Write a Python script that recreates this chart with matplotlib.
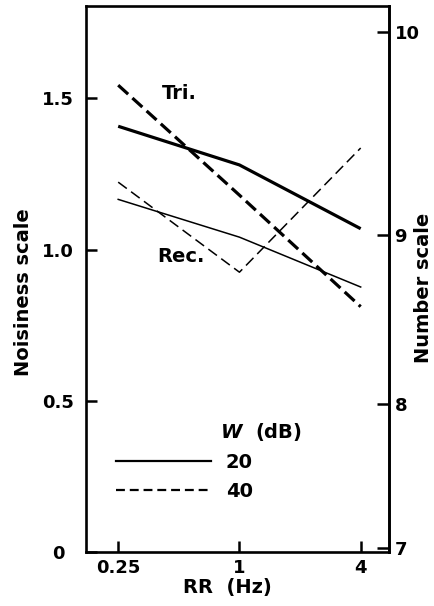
import numpy as np
import matplotlib
matplotlib.use("Agg")
import matplotlib.pyplot as plt
from matplotlib.lines import Line2D

# ---- data ----
rr_hz = [0.25, 1, 4]
tri_20 = [1.408, 1.280, 1.069]   # Tri., W = 20 dB (thick solid)
tri_40 = [1.544, 1.180, 0.811]   # Tri., W = 40 dB (thick dashed)
rec_20 = [1.166, 1.041, 0.876]   # Rec., W = 20 dB (thin solid)
rec_40 = [1.223, 0.925, 1.336]   # Rec., W = 40 dB (thin dashed)

x_ticks = [0.25, 1, 4]
x_tick_labels = ["0.25", "1", "4"]
y_ticks = [0, 0.5, 1.0, 1.5]
y_tick_labels = ["0", "0.5", "1.0", "1.5"]
# right "Number scale": tick values and their positions on the noisiness scale
number_ticks = [7, 8, 9, 10]
number_on_noisiness = [0.012, 0.490, 1.046, 1.719]
legend_labels = ["20", "40"]

plt.rcParams['font.family'] = ['DejaVu Sans']
plt.rcParams['font.weight'] = 'bold'

fig = plt.figure(figsize=(4.35, 6.06), dpi=100)
ax = fig.add_axes([86/435, 1 - 551.7/606, (389-86)/435, (551.7-6)/606])

ax.set_xscale('log', base=2)
ax.set_xlim(0.173, 5.53)
ax.set_ylim(0, 1.806)

thick = 2.3
thin = 1.1
ax.plot(rr_hz, tri_20, color='black', lw=thick, solid_capstyle='butt')
ax.plot(rr_hz, tri_40, color='black', lw=thick, dashes=(4.2, 1.8))
ax.plot(rr_hz, rec_20, color='black', lw=thin)
ax.plot(rr_hz, rec_40, color='black', lw=thin, dashes=(7, 3.5))

ax.set_xticks(x_ticks)
ax.set_xticklabels(x_tick_labels)
ax.xaxis.set_minor_locator(matplotlib.ticker.NullLocator())
ax.set_yticks(y_ticks)
ax.set_yticklabels(y_tick_labels)

for sp in ax.spines.values():
    sp.set_linewidth(1.9)

ax.tick_params(axis='x', direction='in', length=8, width=1.8, labelsize=13, pad=5)
ax.tick_params(axis='y', direction='in', length=8, width=1.8, labelsize=13, pad=20)
for lab in ax.get_yticklabels():
    lab.set_horizontalalignment('center')

# right-hand Number scale (non-linear mapping to the noisiness scale)
def fwd_f(v):
    v = np.asarray(v, dtype=float)
    p = np.polyfit(number_on_noisiness, number_ticks, 3)
    return np.polyval(p, v)
def inv_f(v):
    v = np.asarray(v, dtype=float)
    p = np.polyfit(number_ticks, number_on_noisiness, 3)
    return np.polyval(p, v)
sec = ax.secondary_yaxis('right', functions=(fwd_f, inv_f))
sec.set_yticks(number_ticks)
sec.set_yticklabels([str(n) for n in number_ticks])
sec.spines['right'].set_linewidth(1.9)
sec.tick_params(axis='y', direction='in', length=9, width=1.8, labelsize=13, pad=4)
sec.yaxis.set_minor_locator(matplotlib.ticker.NullLocator())

# axis titles
fig.text(227/435, 1 - 587/606, "RR  (Hz)", fontsize=14, fontweight='bold',
         ha='center', va='center')
fig.text(24/435, 1 - 292/606, "Noisiness scale", fontsize=14, fontweight='bold',
         ha='center', va='center', rotation=90)
fig.text(424/435, 1 - 288/606, "Number scale", fontsize=14, fontweight='bold',
         ha='center', va='center', rotation=90)

# curve labels
ax.text(0.5, 1.518, "Tri.", fontsize=14, fontweight='bold', ha='center', va='center')
ax.text(0.51, 0.977, "Rec.", fontsize=14, fontweight='bold', ha='center', va='center')

# legend
handles = [Line2D([], [], color='black', lw=1.6),
           Line2D([], [], color='black', lw=1.6, dashes=(4, 2.2))]
leg = ax.legend(handles, legend_labels, loc='upper left', bbox_to_anchor=(0.099, 0.181),
                frameon=False, fontsize=14, handlelength=4.9, handletextpad=0.75,
                labelspacing=0.5, borderpad=0, borderaxespad=0)
ax.text(0.443, 0.219, r"$\mathit{W}$  (dB)", transform=ax.transAxes, fontsize=14,
        fontweight='bold', ha='left', va='center')

fig.savefig("out.png", dpi=100)
